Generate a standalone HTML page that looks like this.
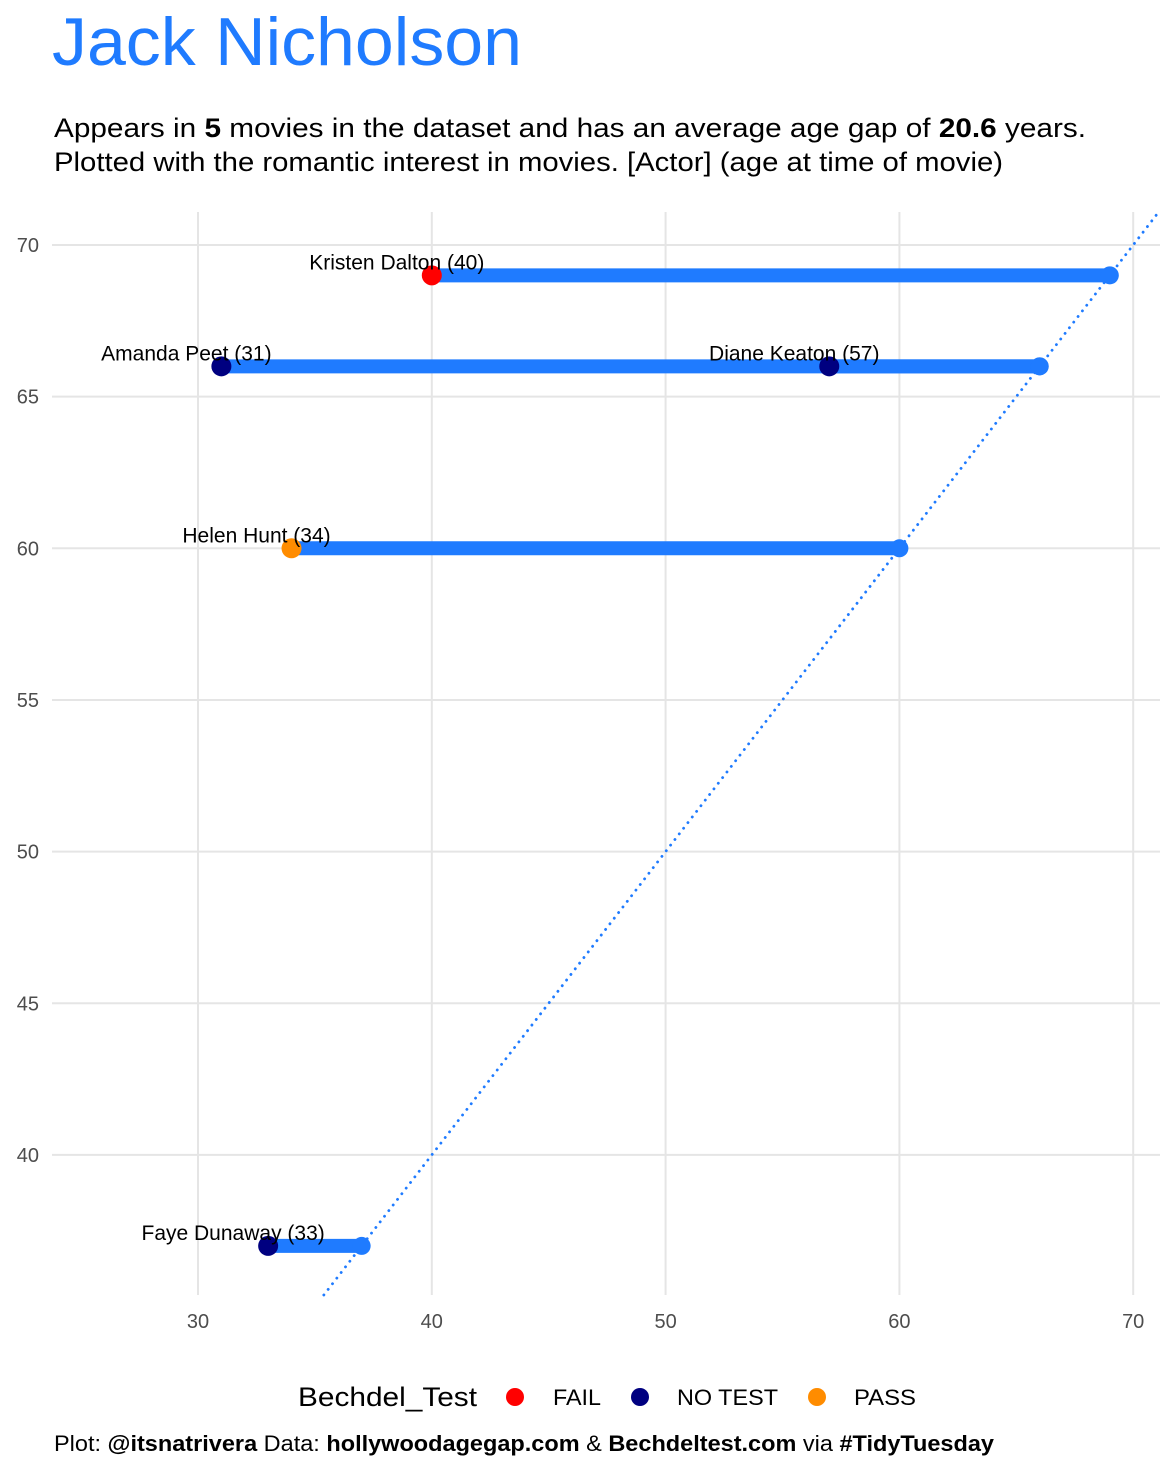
<!DOCTYPE html>
<html><head><meta charset="utf-8">
<style>
body{margin:0;background:#fff;font-family:"Liberation Sans",Arial,sans-serif;}
svg{display:block}
</style></head>
<body>
<svg id="chart" width="1176" height="1470" xmlns="http://www.w3.org/2000/svg" font-family="Liberation Sans, Arial, sans-serif">
<text x="52" y="65" font-size="68" fill="#1f7bff" textLength="470" lengthAdjust="spacingAndGlyphs">Jack Nicholson</text>
<text x="54" y="137" font-size="27" fill="#000" textLength="1032" lengthAdjust="spacingAndGlyphs">Appears in <tspan font-weight="bold">5</tspan> movies in the dataset and has an average age gap of <tspan font-weight="bold">20.6</tspan> years.</text>
<text x="54" y="171" font-size="27" fill="#000" textLength="949" lengthAdjust="spacingAndGlyphs">Plotted with the romantic interest in movies. [Actor] (age at time of movie)</text>
<g id="grid"></g>
<g id="marks"></g>
<g>
<text x="298" y="1406" font-size="27" fill="#000" textLength="179" lengthAdjust="spacingAndGlyphs">Bechdel_Test</text>
<circle cx="515" cy="1397" r="9" fill="#ff0000"/>
<text x="553" y="1405" font-size="22" textLength="48" lengthAdjust="spacingAndGlyphs">FAIL</text>
<circle cx="640" cy="1397" r="9" fill="#000080"/>
<text x="677" y="1405" font-size="22" textLength="101" lengthAdjust="spacingAndGlyphs">NO TEST</text>
<circle cx="817" cy="1397" r="9" fill="#ff8c00"/>
<text x="854" y="1405" font-size="22" textLength="62" lengthAdjust="spacingAndGlyphs">PASS</text>
</g>
<text x="54" y="1451" font-size="22" textLength="940" lengthAdjust="spacingAndGlyphs">Plot: <tspan font-weight="bold">@itsnatrivera</tspan> Data: <tspan font-weight="bold">hollywoodagegap.com</tspan> &amp; <tspan font-weight="bold">Bechdeltest.com</tspan> via <tspan font-weight="bold">#TidyTuesday</tspan></text>
</svg>
<script>
const actorAges = [69, 66, 66, 60, 37];
const partnerAges = [40, 31, 57, 34, 33];
const partnerNames = ["Kristen Dalton", "Amanda Peet", "Diane Keaton", "Helen Hunt", "Faye Dunaway"];
const bechdel = ["FAIL", "NO TEST", "NO TEST", "PASS", "NO TEST"];
const xTicks = [30, 40, 50, 60, 70];
const yTicks = [40, 45, 50, 55, 60, 65, 70];
const colors = {"FAIL":"#ff0000","NO TEST":"#000080","PASS":"#ff8c00"};
const NS = "http://www.w3.org/2000/svg";
const L = 52, R = 1160, T = 212, B = 1295;
function xs(v){ return 198 + (v - 30) * 23.38; }
function ys(v){ return 245 + (70 - v) * 30.33; }
function xinv(p){ return 30 + (p - 198) / 23.38; }
function yinv(p){ return 70 - (p - 245) / 30.33; }
function mk(tag, attrs, parent){ const e = document.createElementNS(NS, tag); for (const k in attrs) e.setAttribute(k, attrs[k]); parent.appendChild(e); return e; }
const grid = document.getElementById('grid');
const marks = document.getElementById('marks');
xTicks.forEach(t => {
  const l = mk('line', {x1: xs(t), x2: xs(t), y1: T, y2: B, stroke: '#e5e5e5', 'stroke-width': 2}, grid);
  
  
  const tx = mk('text', {x: xs(t), y: 1328, 'font-size': 20, fill: '#4d4d4d', 'text-anchor': 'middle'}, grid);
  tx.textContent = t;
  
  
});
yTicks.forEach(t => {
  const l = mk('line', {x1: L, x2: R, y1: ys(t), y2: ys(t), stroke: '#e5e5e5', 'stroke-width': 2}, grid);
  
  
  const tx = mk('text', {x: 39, y: ys(t) + 7, 'font-size': 20, fill: '#4d4d4d', 'text-anchor': 'end'}, grid);
  tx.textContent = t;
  
  
});
const v0 = Math.max(xinv(L), yinv(B)), v1 = Math.min(xinv(R), yinv(T));
const d = mk('line', {x1: xs(v0), y1: ys(v0), x2: xs(v1), y2: ys(v1), stroke: '#1f7bff', 'stroke-width': 2.8, 'stroke-dasharray': '0.1,7', 'stroke-linecap': 'round'}, marks);


actorAges.forEach((a, i) => {
  const seg = mk('line', {x1: xs(partnerAges[i]), x2: xs(a), y1: ys(a), y2: ys(a), stroke: '#1f7bff', 'stroke-width': 14, 'stroke-linecap': 'round'}, marks);
  
  
});
actorAges.forEach((a, i) => {
  const c = mk('circle', {cx: xs(a), cy: ys(a), r: 9, fill: '#1f7bff'}, marks);
  
  
});
actorAges.forEach((a, i) => {
  const c = mk('circle', {cx: xs(partnerAges[i]), cy: ys(a), r: 10, fill: colors[bechdel[i]]}, marks);
  
  
  const label = partnerNames[i] + ' (' + partnerAges[i] + ')';
  const t = mk('text', {x: xs(partnerAges[i]) - 35, y: ys(a) - 6, 'font-size': 21, fill: '#000', 'text-anchor': 'middle'}, marks);
  t.textContent = label;
  
  
});
</script>
</body></html>
